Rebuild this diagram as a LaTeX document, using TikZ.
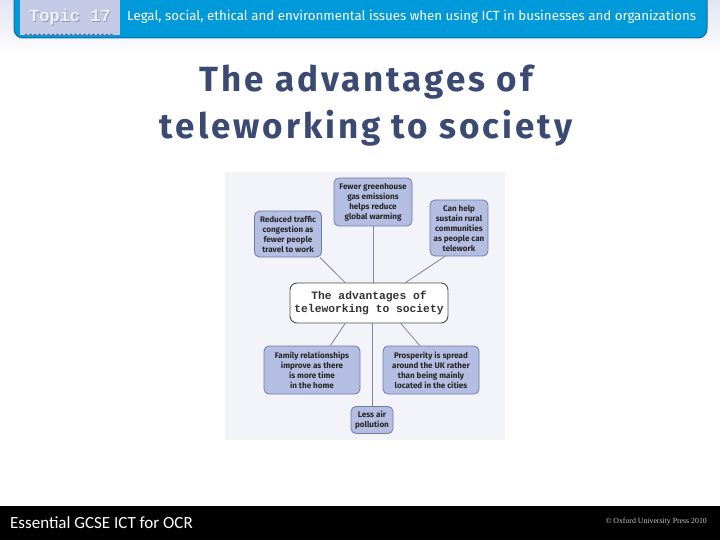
\documentclass[tikz,border=0pt]{standalone}
\usepackage{fontspec}
\setmainfont{Fira Sans}
\newfontfamily\titlefont[LetterSpace=8.5]{Fira Sans}
\newfontfamily\boxfont{Fira Sans}
\newfontfamily\monofont{Liberation Mono}
\newfontfamily\footfont{Carlito}
\newfontfamily\copyfont{Liberation Serif}
\usetikzlibrary{calc,backgrounds}
\pgfdeclarelayer{bottom}
\pgfsetlayers{bottom,background,main}
\definecolor{bannerblue}{HTML}{0099D9}
\definecolor{banneredge}{HTML}{0A6E9E}
\definecolor{tabfill}{HTML}{C5CBE6}
\definecolor{tabtext}{HTML}{F2F3FA}
\definecolor{tabshadow}{HTML}{8F97B8}
\definecolor{tabdots}{HTML}{5F6E9E}
\definecolor{titleblue}{HTML}{3B4A72}
\definecolor{boxfill}{HTML}{B4BDE2}
\definecolor{boxline}{HTML}{6E7BA6}
\definecolor{linkgray}{HTML}{7E869C}
\definecolor{diagbg}{HTML}{F3F4F9}
\definecolor{topfade}{HTML}{E2E5F2}
\definecolor{copygray}{HTML}{C8C8C8}
\tikzset{
  infobox/.style={rounded corners=5pt, fill=boxfill, draw=boxline, line width=0.8pt,
    align=center, inner sep=0pt, text=black!85,
    font=\boxfont\bfseries\fontsize{8.1}{10}\selectfont},
  centrebox/.style={rounded corners=7pt, fill=white, draw=black!70, line width=0.9pt,
    align=center, inner sep=0pt, text=black!80,
    font=\monofont\bfseries\fontsize{11.3}{13}\selectfont},
  link/.style={draw=linkgray, line width=0.8pt}
}
\begin{document}
\begin{tikzpicture}[x=1pt,y=-1pt]
\useasboundingbox (0,0) rectangle (720,540);
\begin{pgfonlayer}{bottom}
\fill[white] (0,0) rectangle (720,540);
\shade[top color=topfade, bottom color=white] (0,0) rectangle (720,56);
\fill[diagbg] (225,172) rectangle (505,440);
\end{pgfonlayer}
% banner
\fill[bannerblue, rounded corners=9pt] (14,-14) rectangle (707,38);
\draw[banneredge, line width=1pt, rounded corners=9pt] (14,-14) -- (14,38) -- (707,38) -- (707,-14);
\fill[tabfill] (20,-2) rectangle (120,35);
\foreach \x in {26,30.5,...,114} \fill[tabdots] (\x,34.8) circle (1.3pt);
\node[text=tabshadow, font=\monofont\bfseries\fontsize{17}{17}\selectfont] (topicshadow) at (70.8,17.8) {Topic 17};
\node[text=tabtext, font=\monofont\bfseries\fontsize{17}{17}\selectfont] (topic) at (70,17) {Topic 17};
\node[text=white, font=\fontsize{13.3}{15}\selectfont, anchor=west, inner sep=0pt] (header) at (127,17)
  {Legal, social, ethical and environmental issues when using ICT in businesses and organizations};
% title
\node[text=titleblue, font=\titlefont\bfseries\fontsize{35}{40}\selectfont, anchor=base] (title1) at (366,92) {The advantages of};
\node[text=titleblue, font=\titlefont\bfseries\fontsize{35}{40}\selectfont, anchor=base] (title2) at (366,139) {teleworking to society};
% nodes
\node[infobox, minimum width=78pt, minimum height=48pt] (gh) at (373,202) {Fewer greenhouse\\gas emissions\\helps reduce\\global warming};
\node[infobox, minimum width=67pt, minimum height=46pt] (traffic) at (288,234) {Reduced traffic\\congestion as\\fewer people\\travel to work};
\node[infobox, minimum width=58pt, minimum height=56pt] (rural) at (459,228) {Can help\\sustain rural\\communities\\as people can\\telework};
\node[centrebox, minimum width=158pt, minimum height=40pt] (centre) at (369,303) {The advantages of\\teleworking to society};
\node[infobox, minimum width=96pt, minimum height=48pt] (family) at (312,370) {Family relationships\\improve as there\\is more time\\in the home};
\node[infobox, minimum width=96pt, minimum height=48pt] (prosper) at (431,370) {Prosperity is spread\\around the UK rather\\than being mainly\\located in the cities};
\node[infobox, minimum width=42pt, minimum height=27pt] (air) at (372,420) {Less air\\pollution};
% connectors
\begin{pgfonlayer}{background}
\draw[link] (gh.south) -- (gh.south |- centre.north);
\draw[link] ($(traffic.south west)!0.97!(traffic.south east)$) -- ($(centre.north west)!0.35!(centre.north east)$);
\draw[link] ($(rural.south west)!0.26!(rural.south east)$) -- ($(centre.north west)!0.73!(centre.north east)$);
\draw[link] ($(centre.south west)!0.35!(centre.south east)$) -- ($(family.north west)!0.69!(family.north east)$);
\draw[link] ($(centre.south west)!0.70!(centre.south east)$) -- ($(prosper.north west)!0.385!(prosper.north east)$);
\draw[link] (air.north) -- (air.north |- centre.south);
\end{pgfonlayer}
% footer
\fill[black] (0,506) rectangle (720,540);
\node[text=white, font=\footfont\fontsize{17}{20}\selectfont, anchor=west, inner sep=0pt] (footer) at (10,523) {Essential GCSE ICT for OCR};
\node[text=copygray, font=\copyfont\fontsize{7.8}{9}\selectfont, anchor=east, inner sep=0pt] (copyright) at (707,522) {\textcopyright{} Oxford University Press 2010};
\end{tikzpicture}
\end{document}
